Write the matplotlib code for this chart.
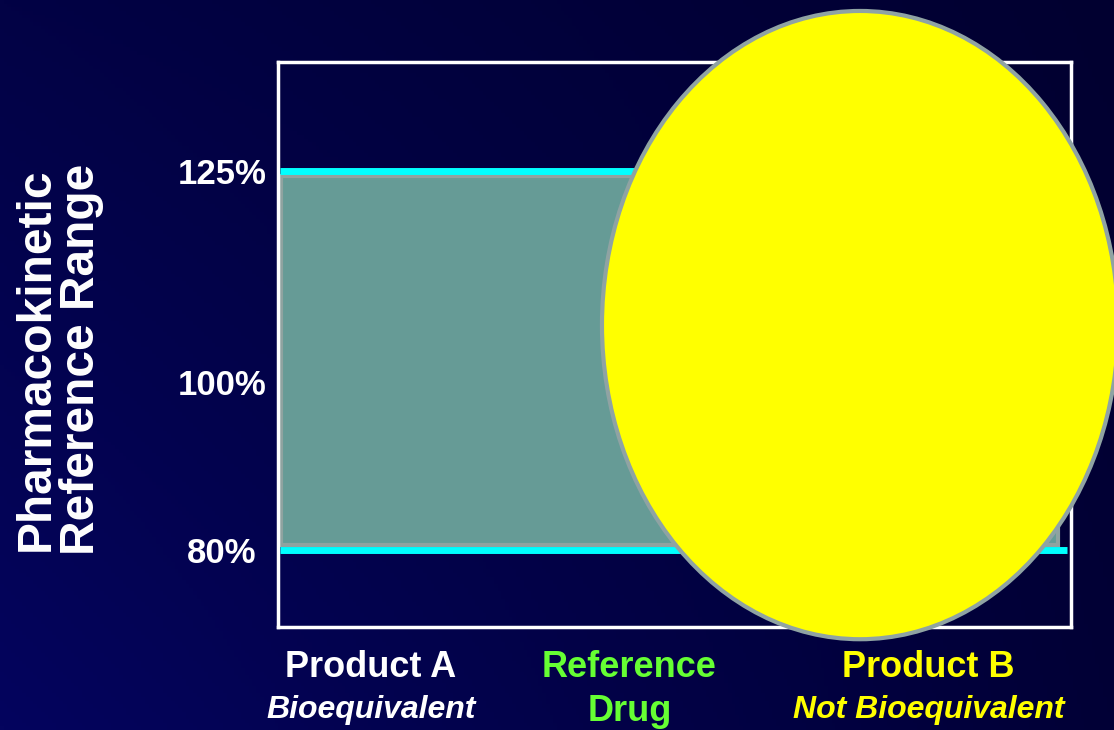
import matplotlib.pyplot as plt
import numpy as np
from matplotlib.patches import Rectangle, Ellipse
from matplotlib.transforms import offset_copy

plt.rcParams['font.family'] = ['Liberation Sans', 'DejaVu Sans']
plt.rcParams['font.weight'] = 'bold'

# reference range limits (% of reference drug)
range_low = 80
range_high = 125
ytick_values = [80, 100, 125]
ytick_labels = ["80%", "100%", "125%"]

# bottom labels
product_names = ["Product A", "Reference", "Product B"]
product_notes = ["Bioequivalent", "Drug", "Not Bioequivalent"]
note_italic = [True, False, True]
label_colors = ["white", "#66FF33", "#FFFF00"]
label_x = [0.117, 0.443, 0.820]

fig = plt.figure(figsize=(11.14, 7.30), dpi=100)

# navy background, a bit lighter towards the bottom left
bg = fig.add_axes([0, 0, 1, 1])
bg.axis('off')
tl = np.array([2, 2, 69]) / 255
tr = np.array([1, 0, 48]) / 255
bl = np.array([4, 4, 94]) / 255
br = np.array([1, 0, 54]) / 255
u = np.linspace(0, 1, 300)[None, :, None]
v = np.linspace(0, 1, 200)[:, None, None]
img = (1 - v) * ((1 - u) * tl + u * tr) + v * ((1 - u) * bl + u * br)
bg.imshow(img, aspect='auto', extent=[0, 1, 0, 1])

ax = fig.add_axes([0.2496, 0.1411, 0.7118, 0.7740])
ax.patch.set_alpha(0)
ax.set_xlim(0, 1)
ax.set_ylim(70.9, 137.9)
ax.set_xticks([])
ax.set_yticks([])
for sp in ax.spines.values():
    sp.set_color('white')
    sp.set_linewidth(2.5)

# shaded acceptance band
ax.add_patch(Rectangle((0.004, range_low + 0.6), 0.98, range_high - range_low - 1.2,
                       facecolor='#669B96', edgecolor='#8FA3A0', lw=3, zorder=2))
ax.hlines([range_low, range_high], 0.003, 0.995, color='#00FFFF', lw=5, zorder=3)

# yellow oval over product B
ax.add_patch(Ellipse((0.734, 106.7), width=0.651, height=74.5,
                     facecolor='#FFFF00', edgecolor='#8FA3A3', lw=3,
                     zorder=5, clip_on=False))

# percentage labels, baseline placed so the digits sit centred on the value
ytrans = offset_copy(ax.get_yaxis_transform(), fig=fig, y=-9.5, units='points')
for val, lab in zip(ytick_values, ytick_labels):
    ax.text(-0.0706, val, lab, transform=ytrans, ha='center', va='baseline',
            color='white', fontsize=25, fontweight='bold')

xtrans = ax.get_xaxis_transform()
for x, name, note, it, col in zip(label_x, product_names, product_notes,
                                  note_italic, label_colors):
    ax.text(x, -0.071, name, transform=xtrans, ha='center', va='center',
            color=col, fontsize=26, fontweight='bold')
    if it:
        ax.text(x, -0.147, note, transform=xtrans, ha='center', va='center',
                color=col, fontsize=23, fontweight='bold', style='italic')
    else:
        ax.text(x, -0.150, note, transform=xtrans, ha='center', va='center',
                color=col, fontsize=26, fontweight='bold')

fig.text(0.053, 0.508, "Pharmacokinetic\nReference Range", rotation=90,
         ha='center', va='center', multialignment='center', linespacing=1.02,
         color='white', fontsize=34.5, fontweight='bold')

fig.savefig('out.png', dpi=100)
